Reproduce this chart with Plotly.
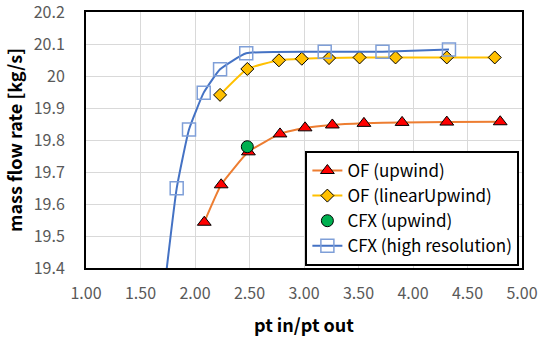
import plotly.graph_objects as go

# pressure ratio (pt in / pt out) and mass flow rate [kg/s] per solver setup
of_upwind_x = [2.085, 2.24, 2.49, 2.78, 3.01, 3.26, 3.55, 3.90, 4.31, 4.80]
of_upwind_y = [19.543, 19.660, 19.763, 19.819, 19.838, 19.847, 19.852, 19.855, 19.856, 19.857]

of_linear_x = [2.23, 2.48, 2.77, 2.98, 3.23, 3.51, 3.84, 4.31, 4.75]
of_linear_y = [19.941, 20.022, 20.049, 20.054, 20.056, 20.058, 20.058, 20.058, 20.058]

cfx_upwind_x = [2.48]
cfx_upwind_y = [19.779]

cfx_hr_x = [1.70, 1.832, 1.945, 2.08, 2.23, 2.47, 3.19, 3.72, 4.33]
cfx_hr_y = [19.28, 19.649, 19.833, 19.948, 20.021, 20.071, 20.076, 20.076, 20.083]

x_ticks = [1.0, 1.5, 2.0, 2.5, 3.0, 3.5, 4.0, 4.5, 5.0]
x_labels = ["1.00", "1.50", "2.00", "2.50", "3.00", "3.50", "4.00", "4.50", "5.00"]
y_ticks = [19.4, 19.5, 19.6, 19.7, 19.8, 19.9, 20.0, 20.1, 20.2]
y_labels = ["19.4", "19.5", "19.6", "19.7", "19.8", "19.9", "20", "20.1", "20.2"]

FONT = "Noto Sans CJK KR"

fig = go.Figure()
fig.add_trace(go.Scatter(
    x=of_upwind_x, y=of_upwind_y, name="OF (upwind)", mode="lines+markers",
    line=dict(color="#ed7d31", width=2, shape="spline", smoothing=0.4),
    marker=dict(symbol="triangle-up", size=12, color="#ff0000",
                line=dict(color="#000000", width=1)),
))
fig.add_trace(go.Scatter(
    x=of_linear_x, y=of_linear_y, name="OF (linearUpwind)", mode="lines+markers",
    line=dict(color="#ffc000", width=2, shape="spline", smoothing=0.4),
    marker=dict(symbol="diamond", size=10, color="#ffc000",
                line=dict(color="#000000", width=1)),
))
fig.add_trace(go.Scatter(
    x=cfx_upwind_x, y=cfx_upwind_y, name="CFX (upwind)", mode="markers",
    marker=dict(symbol="circle", size=12, color="#00b050",
                line=dict(color="#000000", width=1)),
))
fig.add_trace(go.Scatter(
    x=cfx_hr_x, y=cfx_hr_y, name="CFX (high resolution)", mode="lines+markers",
    line=dict(color="#4472c4", width=2, shape="spline", smoothing=0.4),
    marker=dict(symbol="square-open", size=13, color="#7f9fd8",
                line=dict(width=1.5)),
))

fig.update_layout(
    width=539, height=339,
    margin=dict(l=86, r=17, t=12, b=71, autoexpand=False),
    paper_bgcolor="white", plot_bgcolor="white",
    font=dict(family=FONT, size=16, color="#595959"),
    showlegend=True,
    legend=dict(
        x=0.994, y=0.008, xanchor="right", yanchor="bottom",
        bgcolor="white", bordercolor="#000000", borderwidth=2,
        font=dict(family=FONT, size=17, color="#000000"),
        itemwidth=30, tracegroupgap=0,
    ),
    xaxis=dict(
        range=[1.0, 5.0], tickvals=x_ticks, ticktext=x_labels,
        showgrid=True, gridcolor="#d9d9d9", gridwidth=1,
        showline=True, linecolor="#000000", linewidth=2, mirror=True,
        zeroline=False, ticks="", ticklabelstandoff=10, automargin=False,
        ticklabeloverflow="allow",
        title=dict(text="<b>pt in/pt out</b>", standoff=16,
                   font=dict(family=FONT, size=18, color="#000000")),
    ),
    yaxis=dict(
        range=[19.4, 20.2], tickvals=y_ticks, ticktext=y_labels,
        showgrid=True, gridcolor="#d9d9d9", gridwidth=1,
        showline=True, linecolor="#000000", linewidth=2, mirror=True,
        zeroline=False, ticks="", ticklabelstandoff=16, automargin=False,
        ticklabeloverflow="allow",
        title=dict(text="<b>mass flow rate [kg/s]</b>", standoff=6,
                   font=dict(family=FONT, size=18, color="#000000")),
    ),
)

fig.write_html("out.html")
